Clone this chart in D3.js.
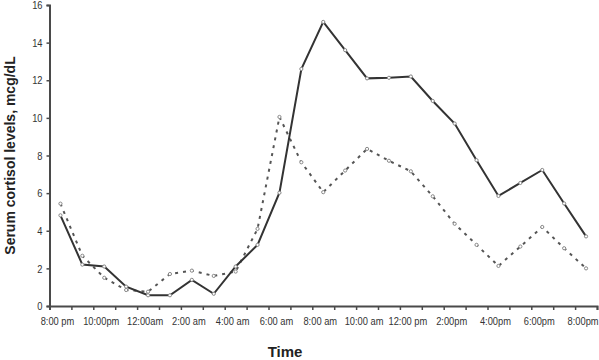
<!DOCTYPE html>
<html>
<head>
<meta charset="utf-8">
<script src="https://cdn.jsdelivr.net/npm/d3@7"></script>
<style>
  body { margin: 0; background: #fff; }
  .tick text { font-family: "Liberation Sans", Arial, sans-serif; }
</style>
</head>
<body>
<div id="chart"></div>
<script>
// hourly samples, 8 pm to 8 pm next day
const hours = ["8:00 pm", "9:00 pm", "10:00pm", "11:00 pm", "12:00am", "1:00 am", "2:00 am",
  "3:00 am", "4:00 am", "5:00 am", "6:00 am", "7:00 am", "8:00 am", "9:00 am", "10:00 am",
  "11:00 am", "12:00 pm", "1:00 pm", "2:00pm", "3:00 pm", "4:00pm", "5:00 pm", "6:00pm",
  "7:00 pm", "8:00pm"];
const solidValues = [4.82, 2.2, 2.1, 1.03, 0.57, 0.57, 1.39, 0.65, 2.1, 3.25, 6.02, 12.6, 15.1,
  13.6, 12.1, 12.13, 12.2, 10.9, 9.7, 7.75, 5.85, 6.54, 7.23, 5.45, 3.7];
const dashedValues = [5.44, 2.67, 1.5, 0.85, 0.76, 1.7, 1.88, 1.6, 1.83, 4.1, 10.05, 7.64, 6.05,
  7.2, 8.35, 7.72, 7.16, 5.83, 4.37, 3.25, 2.13, 3.16, 4.2, 3.07, 2.0];
const yTicks = [0, 2, 4, 6, 8, 10, 12, 14, 16];

const width = 599;
const height = 360;
const margin = {top: 5, right: 2, bottom: 54, left: 49.5};
const squeeze = 0.81; // tick labels are a narrow face in the original

const svg = d3.select("#chart")
  .append("svg")
  .attr("width", width)
  .attr("height", height);

const x = d3.scaleBand()
  .domain(hours.map((d, i) => i))
  .range([margin.left, width - margin.right])
  .padding(0);

// boundaries between categories carry the tick marks
const xEdge = d3.scaleLinear()
  .domain([0, hours.length])
  .range([margin.left, width - margin.right]);

const y = d3.scaleLinear()
  .domain([0, 16])
  .range([height - margin.bottom, margin.top]);

const axisColor = "#4a4a4a";
const textColor = "#333";

// x axis: tick marks
const xTicks = svg.append("g")
  .attr("transform", `translate(0, ${y(0)})`)
  .call(d3.axisBottom(xEdge).tickValues(d3.range(hours.length + 1))
    .tickSize(4).tickFormat(""));
xTicks.select(".domain").attr("stroke", axisColor).attr("stroke-width", 2);
xTicks.selectAll(".tick line").attr("stroke", axisColor).attr("stroke-width", 1.5);

// x axis: labels at every other hour
const xLabels = svg.append("g")
  .attr("transform", `translate(0, ${y(0)})`)
  .call(d3.axisBottom(x).tickSize(0).tickPadding(11)
    .tickValues(hours.map((d, i) => i).filter(i => i % 2 === 0))
    .tickFormat(i => hours[i]));
xLabels.select(".domain").remove();
xLabels.selectAll("text")
  .attr("font-size", 11.5)
  .attr("fill", textColor)
  .attr("x", -3 / squeeze)
  .attr("transform", `scale(${squeeze}, 1)`);

// y axis
const yAxis = svg.append("g")
  .attr("transform", `translate(${margin.left}, 0)`)
  .call(d3.axisLeft(y).tickValues(yTicks).tickSize(3).tickPadding(4));
yAxis.select(".domain").attr("stroke", axisColor).attr("stroke-width", 2);
yAxis.selectAll(".tick line").attr("stroke", axisColor).attr("stroke-width", 1.5);
yAxis.selectAll("text")
  .attr("font-size", 11.5)
  .attr("fill", textColor)
  .attr("x", -7 / squeeze)
  .attr("transform", `scale(${squeeze}, 1)`);

// axis titles
svg.append("text")
  .attr("transform", `translate(14.5, ${(y(0) + y(16)) / 2}) rotate(-90)`)
  .attr("text-anchor", "middle")
  .attr("font-family", "Liberation Sans, Arial, sans-serif")
  .attr("font-weight", "bold")
  .attr("font-size", 14)
  .attr("fill", "#222")
  .text("Serum cortisol levels, mcg/dL");

svg.append("text")
  .attr("x", 285)
  .attr("y", 357)
  .attr("text-anchor", "middle")
  .attr("font-family", "Liberation Sans, Arial, sans-serif")
  .attr("font-weight", "bold")
  .attr("font-size", 15)
  .attr("fill", "#222")
  .text("Time");

const line = d3.line()
  .x((d, i) => x(i) + x.bandwidth() / 2)
  .y(d => y(d));

// dashed series
svg.append("path")
  .datum(dashedValues)
  .attr("fill", "none")
  .attr("stroke", "#555")
  .attr("stroke-width", 2)
  .attr("stroke-dasharray", "3,5")
  .attr("d", line);

// solid series
svg.append("path")
  .datum(solidValues)
  .attr("fill", "none")
  .attr("stroke", "#333")
  .attr("stroke-width", 2)
  .attr("d", line);

[dashedValues, solidValues].forEach(series => {
  svg.append("g")
    .selectAll("circle")
    .data(series)
    .enter()
    .append("circle")
    .attr("cx", (d, i) => x(i) + x.bandwidth() / 2)
    .attr("cy", d => y(d))
    .attr("r", 1.6)
    .attr("fill", "#fff")
    .attr("stroke", "#888")
    .attr("stroke-width", 1);
});
</script>
</body>
</html>
